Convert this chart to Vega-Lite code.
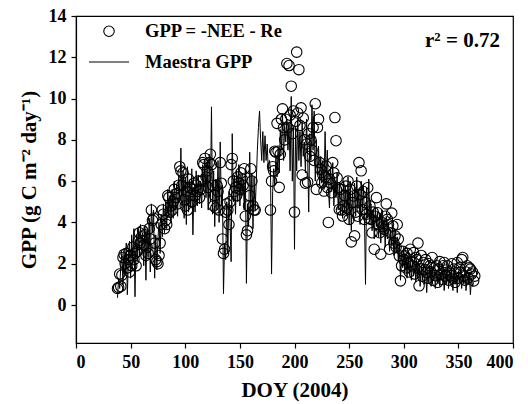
{
"$schema": "https://vega.github.io/schema/vega-lite/v6.json",
"width": 437, "height": 327,
"autosize": {"type": "none"},
"padding": {"left": 76, "top": 16, "right": 15, "bottom": 61},
"background": "white",
"config": {
  "view": {"stroke": "black", "strokeWidth": 1.2},
  "axis": {"labelFont": "Liberation Serif", "labelFontWeight": "bold", "labelFontSize": 18, "labelColor": "black", "titleFont": "Liberation Serif", "titleFontWeight": "bold", "titleFontSize": 21, "titleColor": "black", "domainColor": "black", "tickColor": "black", "tickSize": 5, "grid": false, "domainWidth": 1.2, "tickWidth": 1.2},
  "legend": {"orient": "none", "legendX": 12, "legendY": 6, "title": null, "labelFont": "Liberation Serif", "labelFontWeight": "bold", "labelFontSize": 18.5, "labelColor": "black", "symbolStrokeColor": "black", "symbolStrokeWidth": 1.1, "rowPadding": 0, "labelOffset": 15, "padding": 0}
},
"data": {"values": [
{"d":38,"o":0.8,"m":0.35},{"d":39,"o":0.85,"m":1.3},{"d":40,"o":1.5,"m":0.8},{"d":41,"o":0.9,"m":1.9},{"d":42,"o":1.45,"m":2.5},{"d":43,"o":2.3,"m":1.0},{"d":44,"o":2.45,"m":2.7},{"d":45,"o":2.0,"m":1.5},{"d":46,"o":2.5,"m":3.0},{"d":47,"o":1.8,"m":0.5},{"d":48,"o":2.2,"m":2.3},{"d":49,"o":1.6,"m":3.1},
{"d":50,"o":2.4,"m":1.3},{"d":51,"o":1.9,"m":3.4},{"d":52,"o":2.8,"m":2.0},{"d":53,"o":2.2,"m":3.7},{"d":54,"o":2.5,"m":0.4},{"d":55,"o":1.9,"m":3.2},{"d":56,"o":2.6,"m":2.1},{"d":57,"o":3.1,"m":3.7},{"d":58,"o":3.5,"m":2.4},{"d":59,"o":3.0,"m":3.9},
{"d":60,"o":3.3,"m":2.6},{"d":61,"o":3.6,"m":3.5},{"d":62,"o":2.9,"m":1.9},{"d":63,"o":3.4,"m":3.8},{"d":64,"o":2.4,"m":1.2},{"d":65,"o":2.8,"m":3.6},{"d":66,"o":2.5,"m":2.3},{"d":67,"o":3.7,"m":4.2},{"d":68,"o":3.2,"m":1.6},{"d":69,"o":4.6,"m":4.9},
{"d":70,"o":4.1,"m":3.5},{"d":71,"o":4.2,"m":4.6},{"d":72,"o":3.0,"m":1.3},{"d":73,"o":2.2,"m":3.4},{"d":74,"o":2.1,"m":1.7},{"d":75,"o":2.0,"m":3.2},{"d":76,"o":2.4,"m":4.0},{"d":77,"o":3.0,"m":2.5},{"d":78,"o":3.9,"m":4.4},{"d":79,"o":4.6,"m":3.3},
{"d":80,"o":4.4,"m":4.9},{"d":81,"o":3.7,"m":3.5},{"d":82,"o":4.1,"m":5.0},{"d":83,"o":3.9,"m":3.7},{"d":84,"o":5.3,"m":5.6},{"d":85,"o":5.2,"m":4.3},{"d":86,"o":4.5,"m":5.3},{"d":87,"o":4.8,"m":4.0},{"d":88,"o":4.6,"m":5.6},{"d":89,"o":5.0,"m":4.2},
{"d":90,"o":5.6,"m":6.0},{"d":91,"o":5.2,"m":4.6},{"d":92,"o":5.4,"m":5.8},{"d":93,"o":4.9,"m":4.3},{"d":94,"o":5.8,"m":6.3},{"d":95,"o":6.7,"m":5.0},{"d":96,"o":6.5,"m":7.6},{"d":97,"o":5.8,"m":4.8},{"d":98,"o":6.4,"m":6.5},{"d":99,"o":5.1,"m":4.2},
{"d":100,"o":4.8,"m":6.2},{"d":101,"o":5.5,"m":3.9},{"d":102,"o":4.6,"m":6.7},{"d":103,"o":6.1,"m":4.5},{"d":104,"o":5.7,"m":6.0},{"d":105,"o":5.3,"m":4.7},{"d":106,"o":5.0,"m":6.6},{"d":107,"o":5.6,"m":3.4},{"d":108,"o":5.9,"m":5.7},{"d":109,"o":5.3,"m":4.5},
{"d":110,"o":5.8,"m":6.5},{"d":111,"o":5.5,"m":4.8},{"d":112,"o":6.0,"m":6.3},{"d":113,"o":5.2,"m":4.9},{"d":114,"o":5.6,"m":6.0},{"d":115,"o":6.0,"m":4.7},{"d":116,"o":6.9,"m":6.8},{"d":117,"o":6.8,"m":5.5},{"d":118,"o":7.1,"m":7.0},{"d":119,"o":6.2,"m":5.2},
{"d":120,"o":6.5,"m":6.9},{"d":121,"o":5.7,"m":4.6},{"d":122,"o":6.9,"m":7.3},{"d":123,"o":7.3,"m":5.0},{"d":124,"o":6.8,"m":9.6},{"d":125,"o":5.8,"m":4.4},{"d":126,"o":4.8,"m":6.5},{"d":127,"o":5.3,"m":3.8},{"d":128,"o":4.7,"m":6.1},{"d":129,"o":5.8,"m":4.6},
{"d":130,"o":5.5,"m":7.0},{"d":131,"o":4.6,"m":4.0},{"d":132,"o":6.9,"m":7.9},{"d":133,"o":5.9,"m":4.9},{"d":134,"o":3.2,"m":5.8},{"d":135,"o":2.5,"m":0.55},{"d":136,"o":2.7,"m":3.0},{"d":137,"o":4.5,"m":2.2},{"d":138,"o":4.9,"m":5.0},{"d":139,"o":4.6,"m":2.5},
{"d":140,"o":3.9,"m":5.5},{"d":141,"o":5.0,"m":4.0},{"d":142,"o":6.8,"m":2.1},{"d":143,"o":7.1,"m":8.3},{"d":144,"o":6.0,"m":5.0},{"d":145,"o":5.5,"m":6.3},{"d":146,"o":5.7,"m":4.4},{"d":147,"o":5.3,"m":6.5},{"d":148,"o":6.2,"m":5.0},{"d":149,"o":5.9,"m":6.8},
{"d":150,"o":5.6,"m":4.8},{"d":151,"o":6.4,"m":6.3},{"d":152,"o":6.1,"m":5.3},{"d":153,"o":5.8,"m":6.1},{"d":154,"o":6.6,"m":4.6},{"d":155,"o":4.3,"m":6.6},{"d":156,"o":3.4,"m":1.05},{"d":157,"o":3.6,"m":4.9},{"d":158,"o":4.8,"m":3.8},{"d":159,"o":5.3,"m":7.4},
{"d":160,"o":6.6,"m":4.6},{"d":161,"o":6.0,"m":6.4},{"d":162,"o":4.8,"m":3.7},{"d":163,"o":4.6,"m":6.2},{"d":164,"o":4.6,"m":4.6},{"d":165,"m":6.0},{"d":166,"m":7.5},{"d":167,"m":8.6},{"d":168,"m":9.4},{"d":169,"m":8.0},
{"d":170,"m":7.0},{"d":171,"m":8.4},{"d":172,"m":6.9},{"d":173,"m":8.2},{"d":174,"m":7.0},{"d":175,"m":7.8},{"d":176,"m":6.5},{"d":177,"m":7.0},{"d":178,"o":4.6,"m":6.6},{"d":179,"o":6.0,"m":1.5},
{"d":180,"o":6.7,"m":5.5},{"d":181,"o":6.5,"m":6.6},{"d":182,"o":7.45,"m":5.8},{"d":183,"o":7.4,"m":7.2},{"d":184,"o":8.8,"m":6.2},{"d":185,"o":7.45,"m":7.6},{"d":186,"o":5.7,"m":6.4},{"d":187,"o":7.3,"m":8.5},{"d":188,"o":9.0,"m":7.5},{"d":189,"o":9.5,"m":9.3},
{"d":190,"o":8.6,"m":7.0},{"d":191,"o":8.0,"m":8.7},{"d":192,"o":9.0,"m":7.9},{"d":193,"o":11.7,"m":9.0},{"d":194,"o":8.6,"m":7.5},{"d":195,"o":11.6,"m":8.8},{"d":196,"o":9.2,"m":6.5},{"d":197,"o":10.6,"m":10.1},{"d":198,"o":8.3,"m":6.0},{"d":199,"o":9.4,"m":8.6},
{"d":200,"o":4.5,"m":2.7},{"d":201,"o":8.9,"m":8.6},{"d":202,"o":12.25,"m":6.5},{"d":203,"o":9.3,"m":9.0},{"d":204,"o":11.4,"m":7.0},{"d":205,"o":8.7,"m":8.4},{"d":206,"o":9.55,"m":6.7},{"d":207,"o":6.3,"m":8.9},{"d":208,"o":9.06,"m":7.2},{"d":209,"o":8.0,"m":7.9},
{"d":210,"o":5.9,"m":6.4},{"d":211,"o":7.8,"m":9.0},{"d":212,"o":5.95,"m":7.3},{"d":213,"o":8.3,"m":4.5},{"d":214,"o":7.2,"m":8.3},{"d":215,"o":8.0,"m":7.0},{"d":216,"o":7.5,"m":9.7},{"d":217,"o":8.6,"m":7.5},{"d":218,"o":7.0,"m":9.4},{"d":219,"o":9.75,"m":6.0},
{"d":220,"o":5.6,"m":8.0},{"d":221,"o":8.6,"m":6.3},{"d":222,"o":9.0,"m":7.7},{"d":223,"o":6.9,"m":5.8},{"d":224,"o":6.57,"m":7.2},{"d":225,"o":5.92,"m":5.9},{"d":226,"o":6.3,"m":7.0},{"d":227,"o":5.52,"m":5.6},{"d":228,"o":6.2,"m":8.4},{"d":229,"o":6.73,"m":6.1},
{"d":230,"o":5.7,"m":7.5},{"d":231,"o":4.0,"m":5.7},{"d":232,"o":6.1,"m":4.7},{"d":233,"o":5.9,"m":6.6},{"d":234,"o":5.44,"m":5.5},{"d":235,"o":6.9,"m":6.9},{"d":236,"o":6.4,"m":4.8},{"d":237,"o":9.08,"m":6.0},{"d":238,"o":7.96,"m":5.2},{"d":239,"o":6.16,"m":6.4},
{"d":240,"o":5.68,"m":4.6},{"d":241,"o":4.63,"m":5.9},{"d":242,"o":5.6,"m":4.4},{"d":243,"o":4.6,"m":5.7},{"d":244,"o":4.31,"m":4.2},{"d":245,"o":4.8,"m":6.0},{"d":246,"o":5.3,"m":4.6},{"d":247,"o":5.76,"m":5.6},{"d":248,"o":4.7,"m":4.3},{"d":249,"o":6.0,"m":6.2},
{"d":250,"o":4.15,"m":3.9},{"d":251,"o":5.6,"m":6.0},{"d":252,"o":3.06,"m":3.6},{"d":253,"o":4.96,"m":5.5},{"d":254,"o":5.28,"m":4.1},{"d":255,"o":3.35,"m":5.9},{"d":256,"o":4.5,"m":4.3},{"d":257,"o":5.76,"m":6.2},{"d":258,"o":4.3,"m":4.7},{"d":259,"o":6.9,"m":5.5},
{"d":260,"o":5.35,"m":3.9},{"d":261,"o":6.5,"m":6.0},{"d":262,"o":4.63,"m":4.5},{"d":263,"o":5.5,"m":5.8},{"d":264,"o":4.15,"m":4.3},{"d":265,"o":4.96,"m":1.0},{"d":266,"o":4.4,"m":5.7},{"d":267,"o":5.68,"m":4.2},{"d":268,"o":4.2,"m":6.1},{"d":269,"o":4.8,"m":4.0},
{"d":270,"o":4.15,"m":4.9},{"d":271,"o":3.5,"m":3.6},{"d":272,"o":4.5,"m":4.6},{"d":273,"o":2.7,"m":3.2},{"d":274,"o":4.3,"m":4.7},{"d":275,"o":5.2,"m":3.8},{"d":276,"o":4.47,"m":4.5},{"d":277,"o":3.9,"m":3.3},{"d":278,"o":3.5,"m":4.4},{"d":279,"o":2.46,"m":3.0},
{"d":280,"o":4.0,"m":4.6},{"d":281,"o":3.8,"m":3.4},{"d":282,"o":3.67,"m":4.2},{"d":283,"o":4.3,"m":2.8},{"d":284,"o":4.9,"m":4.3},{"d":285,"o":4.15,"m":3.2},{"d":286,"o":3.9,"m":4.0},{"d":287,"o":2.7,"m":2.6},{"d":288,"o":3.5,"m":3.6},{"d":289,"o":4.45,"m":2.9},
{"d":290,"o":3.83,"m":3.9},{"d":291,"o":3.0,"m":2.4},{"d":292,"o":3.35,"m":3.6},{"d":293,"o":2.8,"m":2.5},{"d":294,"o":3.9,"m":3.3},{"d":295,"o":3.19,"m":2.1},{"d":296,"o":2.38,"m":3.0},{"d":297,"o":1.17,"m":1.2},{"d":298,"o":1.9,"m":2.6},{"d":299,"o":2.6,"m":1.8},
{"d":300,"o":2.2,"m":2.8},{"d":301,"o":2.38,"m":1.6},{"d":302,"o":1.8,"m":2.5},{"d":303,"o":2.5,"m":1.3},{"d":304,"o":2.06,"m":2.4},{"d":305,"o":1.6,"m":1.5},{"d":306,"o":2.7,"m":2.3},{"d":307,"o":2.1,"m":1.2},{"d":308,"o":1.9,"m":2.2},{"d":309,"o":2.54,"m":1.4},
{"d":310,"o":1.5,"m":2.5},{"d":311,"o":2.3,"m":1.1},{"d":312,"o":2.2,"m":2.1},{"d":313,"o":3.0,"m":1.3},{"d":314,"o":0.93,"m":2.0},{"d":315,"o":1.74,"m":0.9},{"d":316,"o":2.4,"m":1.9},{"d":317,"o":1.4,"m":1.2},{"d":318,"o":2.06,"m":2.0},{"d":319,"o":1.7,"m":1.0},
{"d":320,"o":2.2,"m":1.8},{"d":321,"o":1.58,"m":0.6},{"d":322,"o":1.3,"m":1.7},{"d":323,"o":2.0,"m":1.1},{"d":324,"o":1.9,"m":1.9},{"d":325,"o":1.6,"m":0.9},{"d":326,"o":2.3,"m":1.8},{"d":327,"o":1.2,"m":1.2},{"d":328,"o":1.8,"m":1.6},{"d":329,"o":1.42,"m":0.8},
{"d":330,"o":1.9,"m":1.7},{"d":331,"o":1.1,"m":1.1},{"d":332,"o":1.74,"m":2.0},{"d":333,"o":2.1,"m":0.9},{"d":334,"o":1.5,"m":1.6},{"d":335,"o":1.25,"m":1.2},{"d":336,"o":1.9,"m":1.8},{"d":337,"o":2.06,"m":0.7},{"d":338,"o":1.4,"m":1.5},{"d":339,"o":1.7,"m":1.0},
{"d":340,"o":1.9,"m":1.9},{"d":341,"o":1.2,"m":0.8},{"d":342,"o":1.6,"m":1.7},{"d":343,"o":1.42,"m":1.1},{"d":344,"o":2.0,"m":1.5},{"d":345,"o":1.3,"m":0.7},{"d":346,"o":1.74,"m":1.8},{"d":347,"o":1.1,"m":1.0},{"d":348,"o":1.5,"m":1.4},{"d":349,"o":2.06,"m":0.6},
{"d":350,"o":1.3,"m":1.6},{"d":351,"o":1.8,"m":1.1},{"d":352,"o":1.58,"m":1.9},{"d":353,"o":2.2,"m":0.8},{"d":354,"o":2.3,"m":1.5},{"d":355,"o":1.42,"m":1.0},{"d":356,"o":1.2,"m":1.7},{"d":357,"o":1.6,"m":0.7},{"d":358,"o":1.9,"m":1.4},{"d":359,"o":1.3,"m":1.0},
{"d":360,"o":1.8,"m":1.6},{"d":361,"o":1.74,"m":0.5},{"d":362,"o":1.5,"m":1.3},{"d":363,"o":1.6,"m":0.9},{"d":364,"o":1.17,"m":1.1},{"d":365,"o":1.4}
]},
"layer": [
  {"mark": {"type": "line", "color": "black", "strokeWidth": 1},
   "encoding": {
     "x": {"field": "d", "type": "quantitative", "scale": {"domain": [0, 400], "nice": false}, "axis": {"values": [0,50,100,150,200,250,300,350,400], "title": "DOY (2004)", "labelPadding": 5, "titlePadding": 8}},
     "y": {"field": "m", "type": "quantitative", "scale": {"domain": [-1.84, 14], "nice": false, "zero": false}, "axis": {"values": [0,2,4,6,8,10,12,14], "title": "GPP (g C m⁻² day⁻¹)", "labelPadding": 5, "titlePadding": 9}}
   }},
  {"mark": {"type": "point", "filled": false, "color": "black", "strokeWidth": 1.1, "opacity": 1},
   "encoding": {
     "x": {"field": "d", "type": "quantitative"},
     "y": {"field": "o", "type": "quantitative"},
     "shape": {"datum": "GPP = -NEE - Re", "type": "nominal", "scale": {"domain": ["GPP = -NEE - Re", "Maestra GPP"], "range": ["circle", "stroke"]}, "legend": {"title": null}},
     "size": {"datum": "GPP = -NEE - Re", "type": "nominal", "scale": {"domain": ["GPP = -NEE - Re", "Maestra GPP"], "range": [110, 1600]}, "legend": {"title": null}}
   }},
  {"data": {"values": [{"d": 388, "m": 12.5, "label": "r² = 0.72"}]},
   "mark": {"type": "text", "font": "Liberation Serif", "fontWeight": "bold", "fontSize": 21, "align": "right", "baseline": "alphabetic", "color": "black"},
   "encoding": {
     "x": {"field": "d", "type": "quantitative"},
     "y": {"field": "m", "type": "quantitative"},
     "text": {"field": "label"}
   }}
]
}
